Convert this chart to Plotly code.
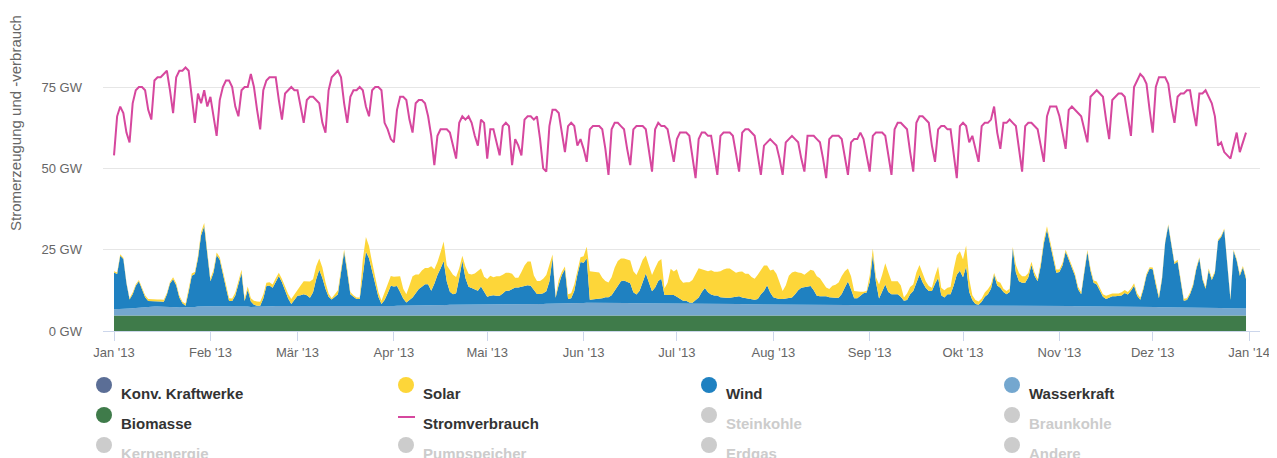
import pandas as pd
import plotly.graph_objects as go

# ------------------------------------------------------------
# Daten (Tageswerte 2013, GW)
# ------------------------------------------------------------
DAYS = pd.date_range("2013-01-01", "2013-12-31", freq="D")

STROMVERBRAUCH_GW = [
    # Jan
    54, 66, 69, 67, 61, 58, 70, 74, 75, 75, 74, 68, 65, 77, 78, 78, 79, 80, 74, 67, 78, 80, 80, 81, 80, 72, 64, 73, 70, 74, 69,
    # Feb
    72, 66, 60, 71, 75, 77, 77, 75, 69, 66, 74, 75, 75, 79, 75, 68, 62, 74, 77, 78, 78, 78, 71, 65, 73, 74, 75, 74,
    # Mär
    74, 69, 64, 71, 72, 72, 71, 70, 64, 61, 74, 78, 79, 80, 78, 70, 64, 72, 74, 74, 75, 74, 69, 66, 74, 75, 75, 74, 64, 62, 59,
    # Apr
    58, 68, 72, 72, 71, 65, 61, 70, 71, 71, 70, 66, 60, 51, 60, 62, 62, 62, 61, 57, 53, 64, 66, 65, 66, 64, 60, 57, 65, 64,
    # Mai
    53, 62, 62, 58, 54, 63, 64, 63, 51, 59, 57, 54, 65, 66, 66, 65, 66, 59, 50, 49, 63, 68, 68, 67, 61, 55, 63, 64, 63, 57, 59,
    # Jun
    56, 52, 62, 63, 63, 63, 62, 56, 48, 62, 64, 64, 63, 62, 56, 51, 62, 63, 63, 63, 62, 55, 49, 62, 64, 63, 63, 62, 57, 52,
    # Jul
    59, 61, 61, 61, 60, 54, 47, 59, 61, 61, 60, 60, 54, 48, 60, 61, 61, 61, 60, 55, 49, 61, 62, 62, 61, 60, 54, 48, 57, 58, 59,
    # Aug
    58, 57, 53, 48, 58, 59, 60, 59, 58, 53, 49, 60, 60, 60, 59, 58, 53, 47, 59, 60, 60, 60, 59, 53, 48, 58, 59, 59, 61, 59, 54,
    # Sep
    49, 60, 61, 61, 61, 60, 54, 48, 62, 64, 64, 63, 62, 55, 49, 64, 66, 66, 65, 64, 57, 52, 62, 63, 63, 62, 62, 54, 47, 63,
    # Okt
    64, 63, 58, 60, 56, 52, 63, 64, 64, 65, 69, 61, 56, 64, 64, 65, 64, 63, 56, 49, 63, 64, 64, 63, 62, 57, 52, 66, 69, 69, 69,
    # Nov
    66, 61, 56, 68, 69, 68, 67, 66, 62, 58, 72, 73, 74, 73, 72, 65, 59, 71, 72, 73, 73, 72, 66, 60, 75, 77, 79, 78, 76, 68,
    # Dez
    61, 75, 78, 78, 78, 76, 69, 64, 72, 73, 73, 74, 74, 68, 63, 73, 73, 74, 72, 70, 66, 57, 58, 55, 54, 53, 57, 61, 55, 58, 61,
]

BIOMASSE_GW = [
    4.8, 4.8, 4.8, 4.8, 4.8, 4.8, 4.8, 4.8, 4.8, 4.8, 4.8, 4.8, 4.8, 4.8, 4.8, 4.8, 4.8, 4.8, 4.8, 4.8, 4.8, 4.8, 4.8, 4.8, 4.8, 4.8, 4.8, 4.8, 4.8, 4.8, 4.8,
    4.8, 4.8, 4.8, 4.8, 4.8, 4.8, 4.8, 4.8, 4.8, 4.8, 4.8, 4.8, 4.8, 4.8, 4.8, 4.8, 4.8, 4.8, 4.8, 4.8, 4.8, 4.8, 4.8, 4.8, 4.8, 4.8, 4.8, 4.8,
    4.8, 4.8, 4.8, 4.8, 4.8, 4.8, 4.8, 4.8, 4.8, 4.8, 4.8, 4.8, 4.8, 4.8, 4.8, 4.8, 4.8, 4.8, 4.8, 4.8, 4.8, 4.8, 4.8, 4.8, 4.8, 4.8, 4.8, 4.8, 4.8, 4.8, 4.8,
    4.8, 4.8, 4.8, 4.8, 4.8, 4.8, 4.8, 4.8, 4.8, 4.8, 4.8, 4.8, 4.8, 4.8, 4.8, 4.8, 4.8, 4.8, 4.8, 4.8, 4.8, 4.8, 4.8, 4.8, 4.8, 4.8, 4.8, 4.8, 4.8, 4.8,
    4.8, 4.8, 4.8, 4.8, 4.8, 4.8, 4.8, 4.8, 4.8, 4.8, 4.8, 4.8, 4.8, 4.8, 4.8, 4.8, 4.8, 4.8, 4.8, 4.8, 4.8, 4.8, 4.8, 4.8, 4.8, 4.8, 4.8, 4.8, 4.8, 4.8, 4.8,
    4.8, 4.8, 4.8, 4.8, 4.8, 4.8, 4.8, 4.8, 4.8, 4.8, 4.8, 4.8, 4.8, 4.8, 4.8, 4.8, 4.8, 4.8, 4.8, 4.8, 4.8, 4.8, 4.8, 4.8, 4.8, 4.8, 4.8, 4.8, 4.8, 4.8,
    4.8, 4.8, 4.8, 4.8, 4.8, 4.8, 4.8, 4.8, 4.8, 4.8, 4.8, 4.8, 4.8, 4.8, 4.8, 4.8, 4.8, 4.8, 4.8, 4.8, 4.8, 4.8, 4.8, 4.8, 4.8, 4.8, 4.8, 4.8, 4.8, 4.8, 4.8,
    4.8, 4.8, 4.8, 4.8, 4.8, 4.8, 4.8, 4.8, 4.8, 4.8, 4.8, 4.8, 4.8, 4.8, 4.8, 4.8, 4.8, 4.8, 4.8, 4.8, 4.8, 4.8, 4.8, 4.8, 4.8, 4.8, 4.8, 4.8, 4.8, 4.8, 4.8,
    4.8, 4.8, 4.8, 4.8, 4.8, 4.8, 4.8, 4.8, 4.8, 4.8, 4.8, 4.8, 4.8, 4.8, 4.8, 4.8, 4.8, 4.8, 4.8, 4.8, 4.8, 4.8, 4.8, 4.8, 4.8, 4.8, 4.8, 4.8, 4.8, 4.8,
    4.8, 4.8, 4.8, 4.8, 4.8, 4.8, 4.8, 4.8, 4.8, 4.8, 4.8, 4.8, 4.8, 4.8, 4.8, 4.8, 4.8, 4.8, 4.8, 4.8, 4.8, 4.8, 4.8, 4.8, 4.8, 4.8, 4.8, 4.8, 4.8, 4.8, 4.8,
    4.8, 4.8, 4.8, 4.8, 4.8, 4.8, 4.8, 4.8, 4.8, 4.8, 4.8, 4.8, 4.8, 4.8, 4.8, 4.8, 4.8, 4.8, 4.8, 4.8, 4.8, 4.8, 4.8, 4.8, 4.8, 4.8, 4.8, 4.8, 4.8, 4.8,
    4.8, 4.8, 4.8, 4.8, 4.8, 4.8, 4.8, 4.8, 4.8, 4.8, 4.8, 4.8, 4.8, 4.8, 4.8, 4.8, 4.8, 4.8, 4.8, 4.8, 4.8, 4.8, 4.8, 4.8, 4.8, 4.8, 4.8, 4.8, 4.8, 4.8, 4.8,
]

WASSERKRAFT_GW = [
    1.9, 1.9, 2.0, 2.0, 2.1, 2.1, 2.2, 2.3, 2.4, 2.5, 2.5, 2.6, 2.6, 2.7, 2.7, 2.7, 2.6, 2.6, 2.5, 2.5, 2.5, 2.4, 2.4, 2.4, 2.5, 2.6, 2.6, 2.7, 2.8, 2.8, 2.8,
    2.8, 2.8, 2.9, 2.9, 2.8, 2.8, 2.7, 2.7, 2.7, 2.8, 2.8, 2.7, 2.7, 2.6, 2.6, 2.7, 2.7, 2.8, 2.8, 2.8, 2.8, 2.9, 2.9, 2.8, 2.8, 2.8, 2.8, 2.8,
    2.8, 2.8, 2.8, 2.8, 2.7, 2.7, 2.7, 2.8, 2.8, 2.8, 2.8, 2.7, 2.7, 2.8, 2.8, 2.8, 2.8, 2.8, 2.8, 2.8, 2.8, 2.8, 2.9, 2.9, 2.9, 2.9, 2.8, 2.8, 2.8, 2.9, 2.9,
    2.9, 3.0, 3.0, 3.0, 3.0, 3.0, 3.0, 3.1, 3.1, 3.1, 3.1, 3.1, 3.1, 3.2, 3.2, 3.2, 3.2, 3.2, 3.3, 3.3, 3.3, 3.3, 3.3, 3.3, 3.3, 3.4, 3.4, 3.4, 3.4, 3.4,
    3.4, 3.4, 3.4, 3.4, 3.4, 3.4, 3.5, 3.5, 3.5, 3.5, 3.5, 3.5, 3.5, 3.5, 3.5, 3.5, 3.5, 3.5, 3.5, 3.6, 3.6, 3.6, 3.6, 3.6, 3.6, 3.6, 3.7, 3.7, 3.7, 3.7, 3.8,
    3.8, 3.9, 3.9, 4.0, 4.0, 4.0, 3.9, 3.9, 3.9, 3.8, 3.8, 3.8, 3.8, 3.8, 3.8, 3.7, 3.7, 3.7, 3.7, 3.7, 3.7, 3.7, 3.7, 3.7, 3.7, 3.6, 3.6, 3.6, 3.6, 3.6,
    3.6, 3.6, 3.6, 3.6, 3.6, 3.6, 3.6, 3.6, 3.6, 3.5, 3.5, 3.5, 3.5, 3.5, 3.5, 3.5, 3.5, 3.5, 3.5, 3.5, 3.5, 3.4, 3.4, 3.4, 3.4, 3.4, 3.4, 3.4, 3.4, 3.4, 3.4,
    3.4, 3.4, 3.3, 3.3, 3.3, 3.3, 3.3, 3.3, 3.3, 3.3, 3.3, 3.3, 3.3, 3.3, 3.3, 3.2, 3.2, 3.2, 3.2, 3.2, 3.2, 3.2, 3.2, 3.2, 3.2, 3.1, 3.1, 3.1, 3.1, 3.1, 3.1,
    3.1, 3.1, 3.1, 3.0, 3.0, 3.0, 3.0, 3.0, 3.0, 3.0, 3.0, 3.0, 3.0, 3.0, 3.0, 3.0, 3.0, 3.0, 3.0, 3.0, 3.0, 3.0, 3.0, 3.0, 3.0, 3.0, 3.0, 3.0, 3.0, 3.0,
    3.0, 3.0, 3.0, 3.0, 3.0, 3.0, 3.0, 3.0, 3.0, 3.0, 3.0, 3.0, 3.0, 3.0, 3.0, 3.0, 3.0, 3.0, 3.0, 3.0, 3.0, 3.0, 3.0, 3.0, 3.0, 3.0, 3.0, 2.9, 2.9, 2.9, 2.9,
    2.9, 2.9, 2.9, 2.9, 2.9, 2.8, 2.8, 2.8, 2.8, 2.8, 2.8, 2.8, 2.8, 2.8, 2.8, 2.8, 2.8, 2.7, 2.7, 2.7, 2.7, 2.7, 2.7, 2.7, 2.7, 2.6, 2.6, 2.6, 2.6, 2.6,
    2.6, 2.6, 2.5, 2.5, 2.5, 2.5, 2.5, 2.5, 2.5, 2.5, 2.4, 2.4, 2.4, 2.4, 2.4, 2.4, 2.4, 2.4, 2.3, 2.3, 2.3, 2.3, 2.3, 2.2, 2.2, 2.2, 2.2, 2.1, 2.1, 2.1, 2.1,
]

WIND_GW = [
    # Jan
    11.3, 10.8, 16.3, 15.3, 7.8, 2.8, 4.3, 6.8, 8.1, 5.8, 3.1, 1.8, 1.8, 1.8, 1.6, 1.6, 1.6, 3.8, 7.3, 8.6, 6.8, 3.1, 1.3, 0.6, 4.8, 9.6, 10.1, 14.8, 21.8, 24.6, 16.1,
    # Feb
    7.7, 10.4, 15.7, 14.2, 9.4, 5.7, 1.7, 1.7, 3.4, 6.4, 10.2, 1.7, 5.2, 1.7, 0.7, 0.3, 0.3, 2.4, 6.2, 6.4, 5.7, 7.4, 9.2, 7.4, 4.7, 2.4, 0.7, 1.9,
    # Mär
    3.2, 3.4, 3.7, 3.4, 2.7, 4.4, 8.4, 11.2, 8.7, 5.4, 2.9, 2.2, 2.9, 3.7, 10.4, 16.7, 10.4, 3.7, 2.9, 2.2, 2.2, 9.4, 16.7, 14.7, 10.4, 6.7, 2.9, 0.7, 1.9, 3.9, 6.2,
    # Apr
    6.0, 6.0, 4.2, 2.2, 1.0, 1.7, 2.5, 3.7, 5.0, 5.7, 6.5, 6.5, 4.5, 6.5, 9.2, 11.2, 13.5, 7.2, 4.0, 3.2, 3.5, 8.2, 13.5, 8.2, 5.5, 5.0, 4.5, 4.2, 5.5, 3.7,
    # Mai
    2.3, 2.6, 2.8, 2.6, 2.6, 3.3, 4.1, 4.1, 4.6, 5.1, 5.1, 5.3, 5.6, 5.8, 5.6, 4.3, 3.1, 3.1, 3.3, 3.8, 6.8, 14.1, 1.8, 5.8, 8.8, 10.6, 1.3, 1.6, 3.8, 8.8, 12.6,
    # Jun
    12.4, 13.7, 0.9, 0.9, 1.2, 1.2, 1.4, 1.7, 1.7, 2.4, 3.9, 5.4, 6.7, 6.9, 6.4, 6.2, 3.4, 2.7, 3.9, 6.9, 9.2, 6.4, 3.7, 4.9, 6.9, 7.7, 2.7, 2.7, 2.7, 2.7,
    # Jul
    2.1, 1.6, 0.9, 0.9, 0.4, 0.3, 1.1, 1.9, 3.6, 4.9, 3.6, 2.9, 2.6, 2.6, 2.1, 1.9, 1.9, 1.9, 2.1, 2.4, 2.4, 2.1, 1.9, 1.9, 1.6, 1.4, 1.6, 3.1, 4.1, 5.9, 3.6,
    # Aug
    2.2, 1.9, 1.7, 1.7, 1.9, 2.2, 2.2, 3.2, 4.4, 5.2, 5.4, 5.7, 5.7, 4.4, 2.7, 2.7, 2.7, 2.7, 2.4, 2.2, 2.2, 2.2, 3.4, 5.4, 7.2, 4.9, 2.2, 2.2, 2.9, 3.7, 3.9,
    # Sep
    7.2, 15.5, 7.2, 2.2, 4.2, 6.5, 4.2, 3.5, 3.5, 3.5, 2.7, 1.5, 1.7, 3.5, 4.5, 7.2, 9.5, 7.2, 5.5, 4.5, 4.5, 6.7, 8.5, 3.2, 2.5, 3.5, 3.5, 6.2, 9.5, 10.7,
    # Okt
    8.7, 12.0, 4.2, 1.7, 0.5, 0.3, 1.2, 2.7, 3.5, 5.2, 9.5, 6.2, 5.5, 4.2, 3.5, 4.2, 17.5, 10.2, 7.5, 7.0, 7.0, 8.7, 12.5, 9.2, 7.5, 12.2, 19.2, 23.5, 19.2, 14.2, 10.2,
    # Nov
    10.4, 12.4, 16.7, 14.4, 11.7, 9.4, 5.2, 3.7, 10.4, 16.7, 10.9, 7.2, 6.7, 4.9, 2.9, 2.2, 2.7, 3.2, 3.2, 3.2, 3.4, 4.2, 3.7, 4.9, 6.4, 3.4, 2.2, 5.4, 9.7, 11.7,
    # Dez
    11.6, 6.8, 2.8, 8.8, 19.8, 25.1, 18.8, 13.3, 14.1, 7.3, 2.1, 2.3, 4.1, 6.8, 11.8, 15.1, 8.6, 5.8, 11.6, 8.6, 10.8, 20.6, 21.8, 24.1, 12.8, 2.6, 17.6, 14.8, 10.1, 12.6, 9.1,
]

SOLAR_GW = [
    # Jan
    0.4, 0.5, 0.5, 0.4, 0.3, 0.4, 0.5, 0.5, 0.4, 0.5, 0.6, 0.6, 0.5, 0.5, 0.6, 0.6, 0.6, 0.5, 0.5, 0.6, 0.6, 0.6, 0.5, 0.6, 0.7, 0.7, 0.6, 0.8, 1.0, 1.0, 0.8,
    # Feb
    0.8, 0.8, 0.7, 0.8, 1.0, 1.0, 0.9, 0.8, 0.9, 1.0, 1.0, 0.8, 1.0, 1.0, 1.2, 1.3, 1.2, 1.2, 1.0, 1.0, 1.0, 1.1, 1.0, 1.0, 1.2, 1.4, 1.5, 1.8,
    # Mär
    2.0, 3.0, 4.0, 4.3, 5.0, 4.0, 4.0, 3.5, 3.2, 2.0, 1.0, 0.4, 1.0, 1.2, 1.0, 0.7, 1.0, 0.7, 0.5, 0.5, 0.5, 5.0, 4.5, 3.7, 3.0, 1.7, 1.5, 1.0, 2.5, 3.0, 3.0,
    # Apr
    3.0, 3.0, 4.8, 3.0, 2.5, 4.5, 6.5, 5.8, 4.5, 5.0, 5.0, 5.0, 7.5, 4.5, 4.0, 5.0, 6.0, 5.0, 6.5, 6.0, 5.0, 3.0, 1.5, 3.5, 4.0, 4.2, 5.0, 6.0, 5.5, 4.8,
    # Mai
    5.5, 6.2, 5.5, 6.0, 6.0, 5.8, 5.5, 5.5, 4.7, 3.0, 3.0, 4.5, 6.2, 7.3, 7.5, 4.5, 4.0, 4.0, 4.5, 5.0, 5.0, 1.0, 0.5, 1.5, 1.0, 0.8, 1.5, 1.5, 2.0, 1.5, 1.5,
    # Jun
    2.0, 3.5, 8.8, 8.5, 8.0, 8.0, 6.3, 5.0, 4.5, 5.5, 7.0, 7.5, 7.0, 6.8, 7.0, 7.0, 6.5, 6.0, 7.0, 6.5, 5.5, 5.0, 5.0, 6.0, 6.0, 6.0, 2.0, 3.7, 8.0, 7.2,
    # Jul
    8.5, 6.0, 5.5, 5.7, 6.2, 7.0, 8.0, 9.0, 7.0, 5.5, 6.5, 7.5, 7.3, 7.3, 8.0, 8.7, 9.0, 9.0, 8.0, 7.2, 7.5, 8.0, 7.5, 7.5, 6.8, 6.5, 7.5, 7.5, 7.8, 6.0, 6.8,
    # Aug
    8.5, 7.5, 5.2, 2.5, 4.0, 6.7, 7.7, 7.0, 5.5, 4.5, 3.8, 4.2, 5.0, 6.0, 6.0, 5.5, 4.2, 2.7, 2.5, 3.7, 4.0, 4.7, 5.5, 5.0, 4.0, 4.0, 2.2, 2.0, 1.3, 0.5, 0.5,
    # Sep
    2.0, 2.0, 1.5, 4.3, 5.3, 6.5, 6.0, 4.0, 4.0, 4.0, 3.5, 1.0, 2.0, 2.2, 2.0, 3.0, 3.0, 2.5, 2.0, 1.5, 1.0, 2.5, 3.5, 2.3, 2.2, 2.0, 2.2, 5.0, 6.0, 6.0,
    # Okt
    5.5, 6.5, 4.0, 1.5, 1.2, 1.0, 1.0, 1.3, 1.5, 1.3, 0.5, 1.3, 1.5, 1.0, 1.0, 1.0, 0.5, 2.3, 2.5, 2.0, 2.0, 1.3, 1.0, 1.0, 0.7, 1.0, 1.0, 1.0, 1.0, 1.3, 1.0,
    # Nov
    0.8, 0.8, 0.6, 0.6, 0.7, 0.7, 0.8, 0.6, 0.6, 0.6, 0.8, 0.7, 0.9, 0.7, 0.8, 1.0, 0.9, 0.8, 0.8, 0.8, 1.0, 0.9, 0.8, 0.7, 0.8, 0.8, 0.6, 0.6, 0.5, 0.5,
    # Dez
    0.5, 0.5, 0.6, 0.5, 0.4, 0.4, 0.5, 0.5, 0.5, 0.6, 0.6, 0.6, 0.5, 0.5, 0.5, 0.4, 0.5, 0.5, 0.5, 0.5, 0.5, 0.4, 0.4, 0.4, 0.5, 0.5, 0.4, 0.4, 0.5, 0.5, 0.5,
]

TICK_DATES = ["2013-01-01", "2013-02-01", "2013-03-01", "2013-04-01", "2013-05-01", "2013-06-01",
              "2013-07-01", "2013-08-01", "2013-09-01", "2013-10-01", "2013-11-01", "2013-12-01", "2014-01-01"]
TICK_LABELS = ["Jan '13", "Feb '13", "Mär '13", "Apr '13", "Mai '13", "Jun '13",
               "Jul '13", "Aug '13", "Sep '13", "Okt '13", "Nov '13", "Dez '13", "Jan '14"]
Y_TICKS = [0, 25, 50, 75]
Y_LABELS = ["0 GW", "25 GW", "50 GW", "75 GW"]

# Legende: (Name, Farbe, aktiv, Symbol)
LEGEND_ITEMS = [
    ("Konv. Kraftwerke", "#5b6e96", True, "circle"),
    ("Solar", "#fdd639", True, "circle"),
    ("Wind", "#1f81c1", True, "circle"),
    ("Wasserkraft", "#74a7cf", True, "circle"),
    ("Biomasse", "#3f7b4a", True, "circle"),
    ("Stromverbrauch", "#d6479e", True, "line"),
    ("Steinkohle", "#cccccc", False, "circle"),
    ("Braunkohle", "#cccccc", False, "circle"),
    ("Kernenergie", "#cccccc", False, "circle"),
    ("Pumpspeicher", "#cccccc", False, "circle"),
    ("Erdgas", "#cccccc", False, "circle"),
    ("Andere", "#cccccc", False, "circle"),
]

# ------------------------------------------------------------
# Geometrie (Pixel im Fenster; die Seite hat 8 px body-Rand)
# ------------------------------------------------------------
OFF = 8
W, H = 1277 - OFF, 458 - OFF
PLOT_L, PLOT_R, PLOT_B = 103 - OFF, 1260 - OFF, 331 - OFF
PLOT_W = PLOT_R - PLOT_L
PLOT_H = PLOT_B  # top margin 0
Y_MAX = 99.3


def px_x(x):
    return (x - OFF - PLOT_L) / PLOT_W


def px_y(y):
    return (PLOT_B - (y - OFF)) / PLOT_H


FONT = "Liberation Sans, Arial, sans-serif"

fig = go.Figure()

stack = [
    ("Biomasse", BIOMASSE_GW, "#3f7b4a"),
    ("Wasserkraft", WASSERKRAFT_GW, "#74a7cf"),
    ("Wind", WIND_GW, "#1f81c1"),
    ("Solar", SOLAR_GW, "#fdd639"),
]
for name, vals, col in stack:
    fig.add_trace(go.Scatter(
        x=DAYS, y=vals, name=name, mode="lines", stackgroup="erz",
        line=dict(width=0, color=col), fillcolor=col, showlegend=False,
    ))

fig.add_trace(go.Scatter(
    x=DAYS, y=STROMVERBRAUCH_GW, name="Stromverbrauch", mode="lines",
    line=dict(width=2, color="#d6479e"), showlegend=False,
))

# ------------------------------------------------------------
# Legende von Hand (4 Spalten)
# ------------------------------------------------------------
col_x = [104, 406, 709, 1012]
row_y = [385, 415, 445]
shapes, annos = [], []
for i, (name, col, active, sym) in enumerate(LEGEND_ITEMS):
    cx = col_x[i % 4]
    cy = row_y[i // 4]
    if sym == "circle":
        shapes.append(dict(type="circle", xref="paper", yref="paper",
                           xsizemode="pixel", ysizemode="pixel",
                           xanchor=px_x(cx), yanchor=px_y(cy),
                           x0=-8, x1=8, y0=-8, y1=8,
                           fillcolor=col, line=dict(width=0)))
    else:
        shapes.append(dict(type="line", xref="paper", yref="paper",
                           xsizemode="pixel", ysizemode="pixel",
                           xanchor=px_x(cx), yanchor=px_y(cy + 2),
                           x0=-8, x1=9, y0=0, y1=0,
                           line=dict(color=col, width=2)))
    annos.append(dict(x=px_x(cx + 15), y=px_y(cy + 8), xref="paper", yref="paper",
                      xanchor="left", yanchor="middle", showarrow=False,
                      text=f"<b>{name}</b>",
                      font=dict(family=FONT, size=15,
                                color="#333333" if active else "#cccccc")))

annos.append(dict(x=px_x(15), y=px_y(123), xref="paper", yref="paper",
                  xanchor="center", yanchor="middle", showarrow=False,
                  textangle=-90, text="Stromerzeugung und -verbrauch",
                  font=dict(family=FONT, size=15, color="#666666")))

fig.update_layout(
    width=W, height=H,
    margin=dict(l=PLOT_L, r=W - PLOT_R, t=0, b=H - PLOT_B),
    plot_bgcolor="white", paper_bgcolor="white",
    font=dict(family=FONT, color="#666666"),
    shapes=shapes, annotations=annos,
    xaxis=dict(
        type="date", range=["2012-12-28 11:00", "2014-01-04 12:00"],
        tickvals=TICK_DATES, ticktext=TICK_LABELS,
        tickfont=dict(size=13, color="#666666"),
        ticks="outside", ticklen=9, tickcolor="#ccd6eb",
        showline=True, linecolor="#ccd6eb", linewidth=1,
        showgrid=False, zeroline=False,
    ),
    yaxis=dict(
        range=[0, Y_MAX], tickvals=Y_TICKS, ticktext=Y_LABELS,
        tickfont=dict(size=13, color="#666666"),
        showgrid=True, gridcolor="#e6e6e6", gridwidth=1,
        zeroline=False, showline=False, ticks="",
        ticklabelstandoff=20,
    ),
)

fig.write_html("out.html")
